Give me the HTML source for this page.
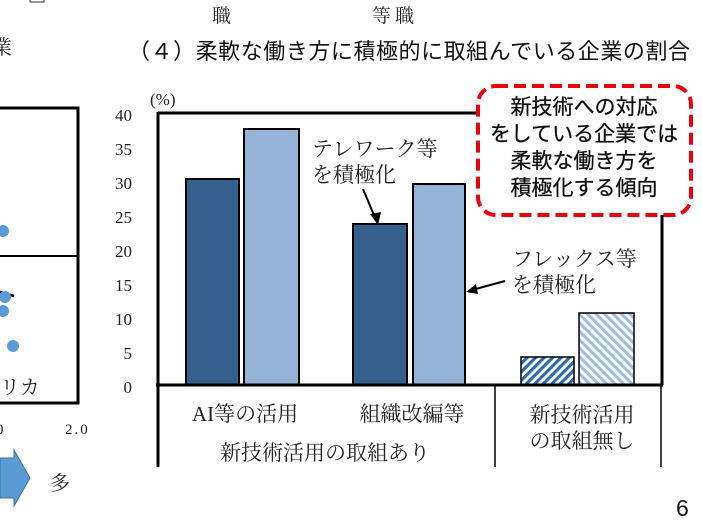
<!DOCTYPE html>
<html><head><meta charset="utf-8"><style>
html,body{margin:0;padding:0;background:#fff;}
svg{display:block;}
.s{font-family:"Liberation Serif","Noto Serif CJK JP","Noto Serif CJK SC",serif;fill:#222;}
.g{font-family:"Liberation Sans","Noto Sans CJK JP",sans-serif;fill:#111;}
</style></head><body>
<svg width="702" height="520" viewBox="0 0 702 520" xmlns="http://www.w3.org/2000/svg">
<defs>
<pattern id="h1" patternUnits="userSpaceOnUse" width="6" height="6" patternTransform="rotate(45)">
<rect width="6" height="6" fill="#fff"/><rect width="3.2" height="6" fill="#2e6aa6"/></pattern>
<pattern id="h2" patternUnits="userSpaceOnUse" width="6" height="6" patternTransform="rotate(-45)">
<rect width="6" height="6" fill="#fff"/><rect width="3" height="6" fill="#9dbde0"/></pattern>
</defs>
<rect x="-5" y="108" width="83" height="295" fill="none" stroke="#000" stroke-width="3"/>
<line x1="0" y1="256" x2="78" y2="256" stroke="#000" stroke-width="2"/>
<line x1="0" y1="292" x2="14" y2="296" stroke="#000" stroke-width="2.5" stroke-dasharray="6,3"/>
<circle cx="3" cy="231" r="6" fill="#5b9bd5"/>
<circle cx="5" cy="297" r="6" fill="#5b9bd5"/>
<circle cx="3" cy="311" r="6" fill="#5b9bd5"/>
<circle cx="13" cy="346" r="6" fill="#5b9bd5"/>
<text class="s" x="0" y="394" font-size="20">リカ</text>
<text class="s" x="-4" y="434" font-size="15">0</text>
<text class="s" x="65" y="434" font-size="15" letter-spacing="2">2.0</text>
<polygon points="0,458 14,458 14,450 30,478 14,506 14,498 0,498" fill="#5b9bd5" stroke="#41719c"/>
<text class="s" x="50" y="490" font-size="20">多</text>
<text class="s" x="-8" y="54" font-size="20">業</text>
<text class="s" x="212" y="22" font-size="19">職</text>
<text class="s" x="372" y="22" font-size="19" letter-spacing="4">等職</text>
<rect x="30" y="-10" width="14" height="12" fill="none" stroke="#333"/>
<text class="g" x="128" y="59" font-size="22" textLength="562">（４）柔軟な働き方に積極的に取組んでいる企業の割合</text>
<text class="s" x="150" y="105" font-size="17">(%)</text>
<g class="s" font-size="17" text-anchor="end">
<text x="132" y="121">40</text><text x="132" y="155">35</text><text x="132" y="189">30</text>
<text x="132" y="223">25</text><text x="132" y="257">20</text><text x="132" y="291">15</text>
<text x="132" y="325">10</text><text x="132" y="359">5</text><text x="132" y="393">0</text>
</g>
<g stroke="#000" stroke-width="2">
<rect x="186" y="179" width="53" height="206" fill="#355f8d"/>
<rect x="244" y="129" width="55" height="256" fill="#95b3d7"/>
<rect x="353" y="224" width="54" height="161" fill="#355f8d"/>
<rect x="413" y="184" width="52" height="201" fill="#95b3d7"/>
<rect x="521" y="357" width="53" height="28" fill="url(#h1)" stroke-width="1.5"/>
<rect x="579" y="313" width="55" height="72" fill="url(#h2)" stroke-width="1.5"/>
</g>
<path d="M158 113 H662 V385" fill="none" stroke="#000" stroke-width="3"/>
<line x1="158" y1="112" x2="158" y2="467" stroke="#000" stroke-width="3"/>
<line x1="156" y1="385" x2="663" y2="385" stroke="#000" stroke-width="3"/>
<line x1="495" y1="385" x2="495" y2="467" stroke="#000" stroke-width="1.5"/>
<line x1="661" y1="385" x2="661" y2="467" stroke="#000" stroke-width="1.5"/>
<g class="s" font-size="21" text-anchor="middle">
<text x="245" y="421">AI等の活用</text>
<text x="412" y="421">組織改編等</text>
<text x="325" y="460">新技術活用の取組あり</text>
<text x="582" y="422">新技術活用</text>
<text x="582" y="448">の取組無し</text>
</g>
<g class="s" font-size="21">
<text x="312" y="156">テレワーク等</text>
<text x="312" y="182">を積極化</text>
<text x="512" y="266">フレックス等</text>
<text x="512" y="292">を積極化</text>
</g>
<line x1="363" y1="189" x2="376" y2="220" stroke="#000" stroke-width="2"/>
<polygon points="378,225 370,214 381,212" fill="#000"/>
<line x1="505" y1="281" x2="472" y2="290" stroke="#000" stroke-width="2"/>
<polygon points="466,292 476,284 478,294" fill="#000"/>
<rect x="478" y="86" width="213" height="129" rx="18" fill="#fff" stroke="#e8000b" stroke-width="4" stroke-dasharray="12,6"/>
<g class="g" font-size="21" text-anchor="middle" fill="#111" stroke="#111" stroke-width="0.3">
<text x="584" y="114">新技術への対応</text>
<text x="584" y="141">をしている企業では</text>
<text x="584" y="168">柔軟な働き方を</text>
<text x="584" y="195">積極化する傾向</text>
</g>
<text class="g" x="676" y="516" font-size="23">6</text>
</svg>
</body></html>
